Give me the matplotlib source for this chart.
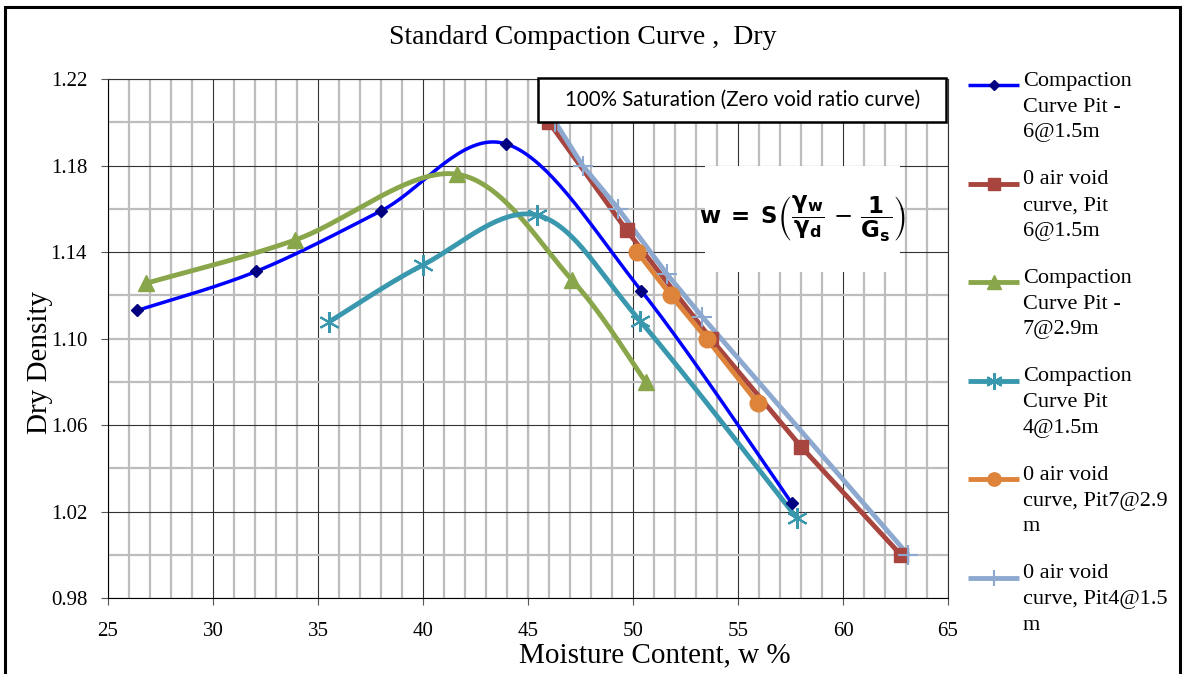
import matplotlib
matplotlib.use("Agg")
import matplotlib.pyplot as plt
from matplotlib.lines import Line2D
from matplotlib.patches import Rectangle
from matplotlib.ticker import FixedLocator
import numpy as np

plt.rcParams['font.family'] = ['Liberation Serif', 'DejaVu Serif']
plt.rcParams['mathtext.fontset'] = 'dejavusans'

# moisture content (%) / dry density readings
w_pit6 = [26.4, 32.05, 38.0, 43.95, 50.4, 57.55]
d_pit6 = [1.113, 1.131, 1.159, 1.190, 1.122, 1.024]

w_zav6 = [46.0, 49.7, 53.7, 58.0, 62.75]
d_zav6 = [1.20, 1.15, 1.10, 1.05, 1.00]

w_pit7 = [26.8, 33.9, 41.6, 47.1, 50.6]
d_pit7 = [1.1255, 1.1455, 1.176, 1.127, 1.080]

w_pit4 = [35.5, 40.0, 45.45, 50.35, 57.8]
d_pit4 = [1.1075, 1.134, 1.157, 1.108, 1.017]

w_zav7 = [50.2, 51.8, 53.5, 55.95]
d_zav7 = [1.14, 1.12, 1.10, 1.07]

w_zav4 = [46.3, 47.6, 49.3, 51.6, 53.3, 63.1]
d_zav4 = [1.20, 1.18, 1.16, 1.13, 1.11, 1.00]

x_ticks = [25, 30, 35, 40, 45, 50, 55, 60, 65]
y_ticks = [0.98, 1.02, 1.06, 1.10, 1.14, 1.18, 1.22]
y_tick_labels = ['0.98', '1.02', '1.06', '1.10', '1.14', '1.18', '1.22']

labels = ['Compaction\nCurve Pit -\n6@1.5m',
          '0 air void\ncurve, Pit\n6@1.5m',
          'Compaction\nCurve Pit -\n7@2.9m',
          'Compaction\nCurve Pit\n4@1.5m',
          '0 air void\ncurve, Pit7@2.9\nm',
          '0 air void\ncurve, Pit4@1.5\nm']


# excel style smoothed line (bezier through the points)
def smooth(x, y, n=40):
    pts = np.column_stack([x, y])
    out = []
    for i in range(len(pts) - 1):
        p0 = pts[i - 1] if i > 0 else pts[i]
        p1 = pts[i]
        p2 = pts[i + 1]
        p3 = pts[i + 2] if i + 2 < len(pts) else pts[i + 1]
        c1 = p1 + (p2 - p0) / 6
        c2 = p2 - (p3 - p1) / 6
        t = np.linspace(0, 1, n)[:, None]
        seg = (1 - t)**3 * p1 + 3 * (1 - t)**2 * t * c1 + 3 * (1 - t) * t**2 * c2 + t**3 * p2
        out.append(seg if i == 0 else seg[1:])
    s = np.vstack(out)
    return s[:, 0], s[:, 1]


fig = plt.figure(figsize=(11.86, 6.74), dpi=100)
ax = fig.add_axes([108 / 1186, 1 - 598 / 674, 840 / 1186, 519 / 674])

star = (6, 2, 0)
styles = [
    dict(color='#0000FF', lw=2.5, marker='D', ms=6.5, mfc='#000080', mec='#000080', smooth=True),
    dict(color='#A8453F', lw=3.5, marker='s', ms=10, mfc='#A8453F', mec='#A8453F', smooth=False),
    dict(color='#8AA64B', lw=3.5, marker='^', ms=12, mfc='#8AA64B', mec='#8AA64B', smooth=True),
    dict(color='#3A98AE', lw=3.5, marker=star, ms=15, mfc='#3A98AE', mec='#3A98AE', smooth=True, mew=1.5),
    dict(color='#DD843A', lw=3.5, marker='o', ms=12, mfc='#DD843A', mec='#DD843A', smooth=False),
    dict(color='#8EA9CF', lw=3.5, marker='+', ms=15, mfc='#8EA9CF', mec='#8EA9CF', smooth=False, mew=1.5),
]
series = [(w_pit6, d_pit6), (w_zav6, d_zav6), (w_pit7, d_pit7),
          (w_pit4, d_pit4), (w_zav7, d_zav7), (w_zav4, d_zav4)]

for (xs, ys), st in zip(series, styles):
    if st['smooth']:
        sx, sy = smooth(xs, ys)
    else:
        sx, sy = xs, ys
    ax.plot(sx, sy, color=st['color'], lw=st['lw'], zorder=3, solid_capstyle='butt')
    ax.plot(xs, ys, ls='none', marker=st['marker'], ms=st['ms'], mfc=st['mfc'],
            mec=st['mec'], mew=st.get('mew', 1), zorder=4)

ax.set_xlim(25, 65)
ax.set_ylim(0.98, 1.22)
ax.set_xticks(x_ticks)
ax.set_yticks(y_ticks)
ax.set_yticklabels(y_tick_labels)

# minor grid (excel draws 45 and 1.10 as minor lines)
xm = [v for v in range(25, 66) if v % 5 != 0 or v == 45]
ym = [round(0.98 + 0.02 * i, 2) for i in range(13)]
ym = [v for v in ym if v not in (0.98, 1.02, 1.06, 1.14, 1.18, 1.22)]
ax.xaxis.remove_overlapping_locs = False
ax.yaxis.remove_overlapping_locs = False
ax.xaxis.set_minor_locator(FixedLocator(xm))
ax.yaxis.set_minor_locator(FixedLocator(ym))
ax.grid(which='minor', color='#BDBDBD', lw=1.6)
ax.grid(which='major', color='#333333', lw=0.8)
for t in ax.xaxis.get_major_ticks():
    if abs(t.get_loc() - 45) < 1e-6:
        t.gridline.set_visible(False)
for t in ax.yaxis.get_major_ticks():
    if abs(t.get_loc() - 1.10) < 1e-6:
        t.gridline.set_visible(False)
ax.set_axisbelow(True)
ax.tick_params(which='minor', length=0)
ax.tick_params(which='major', direction='out', length=5, width=0.8, color='#555555', labelsize=15)
ax.tick_params(axis='x', pad=12)
ax.tick_params(axis='y', pad=10)
for s in ax.spines.values():
    s.set_linewidth(0.8)
    s.set_color('#333333')
ax.spines['bottom'].set_color('black')
ax.spines['left'].set_color('black')

# formula image area
ax.add_patch(Rectangle((0.711, 0.628), 0.232, 0.204, transform=ax.transAxes,
                       facecolor='white', edgecolor='none', zorder=2))
ax.text(0.827, 0.73,
        r'$\mathbf{w\;=\;S}\left(\dfrac{\mathbf{\gamma_w}}{\mathbf{\gamma_d}}\,-\,\dfrac{\mathbf{1}}{\mathbf{G_s}}\right)$',
        transform=ax.transAxes, ha='center', va='center', fontsize=16.5, zorder=2.5)

# saturation box
ax.add_patch(Rectangle((0.512, 0.918), 0.486, 0.084, transform=ax.transAxes,
                       facecolor='white', edgecolor='black', lw=1.8, zorder=5, clip_on=False))
ax.text(0.755, 0.960, '100% Saturation (Zero void ratio curve)', transform=ax.transAxes,
        ha='center', va='center', fontsize=14.8, family=['Lato', 'DejaVu Sans'], zorder=6)

fig.text(583 / 1186, 1 - 38 / 674, 'Standard Compaction Curve ,  Dry', ha='center', va='center', fontsize=20)
fig.text(655 / 1186, 1 - 655 / 674, 'Moisture Content, w %', ha='center', va='center', fontsize=21)
fig.text(40 / 1186, 1 - 362 / 674, 'Dry Density', ha='center', va='center', rotation=90, fontsize=21)

# legend drawn by hand so the handle sits on the first text line
for i, (lab, st) in enumerate(zip(labels, styles)):
    yp = 85 + i * 98.5
    yf = 1 - yp / 674
    fig.add_artist(Line2D([968 / 1186, 1019 / 1186], [yf, yf], color=st['color'], lw=st['lw'],
                          solid_capstyle='butt'))
    fig.add_artist(Line2D([993.5 / 1186], [yf], ls='none', marker=st['marker'],
                          ms=st['ms'] * 0.8, mfc=st['mfc'], mec=st['mec'], mew=st.get('mew', 1)))
    fig.text(1023 / 1186, 1 - (yp - 13) / 674, lab, ha='left', va='top', fontsize=16, linespacing=1.48)

# outer chart border
fig.add_artist(Rectangle((0.004, -0.02), 0.991, 1.01, transform=fig.transFigure,
                         facecolor='none', edgecolor='black', lw=2.2))

fig.savefig('out.png', dpi=100)
